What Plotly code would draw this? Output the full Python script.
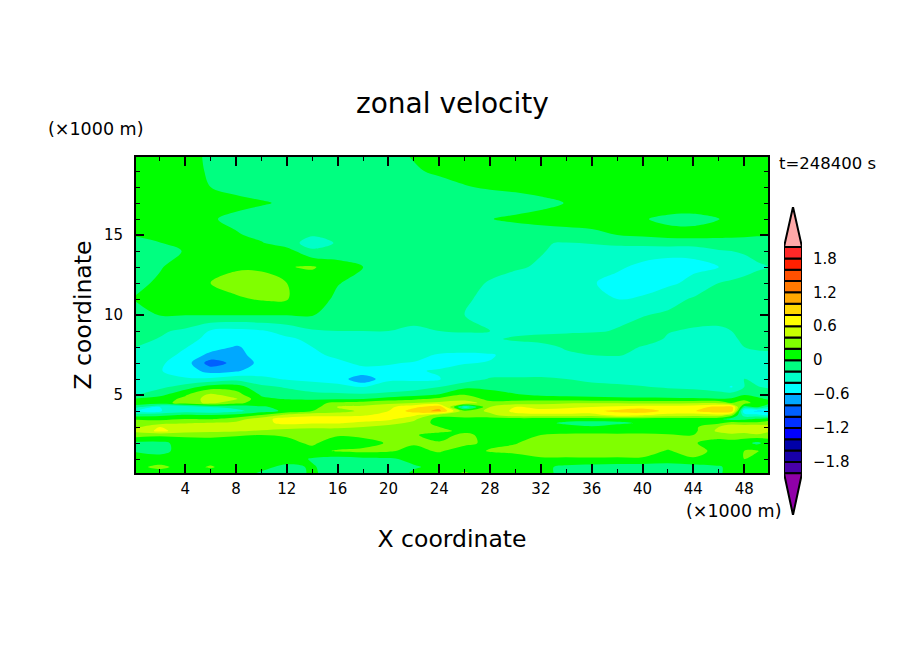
import numpy as np
import plotly.graph_objects as go

x_km = [0.125, 2, 4, 6, 8, 10, 12, 14, 16, 18, 20, 22, 24, 26, 28, 30, 32, 34, 36, 38, 40, 42, 44, 46, 47, 48, 49, 49.875]
z_km = [0.125, 0.5, 1, 1.5, 2, 2.5, 2.75, 3, 3.25, 3.5, 3.75, 4, 4.25, 4.5, 4.75, 5, 5.5, 6, 6.5, 7, 7.5, 8, 8.5, 9, 10, 11, 12, 13, 14, 14.5, 15, 16, 17, 18, 19, 19.875]

# zonal velocity, one row per z level, bottom to top
u = [
    [.1, .1, .1, .1, .08, -.02, -.1, .03, -.1, -.12, -.12, .03, .1, .22, .1, .08, .05, -.05, -.1, -.12, -.12, -.12, -.1, -.02, .05, .1, .1, .1],
    [.15, .25, .12, .22, .1, .05, -.05, .02, -.1, -.12, -.1, -.02, .05, .1, .1, .08, .05, -.05, -.08, -.1, -.1, -.1, -.08, -.02, .05, .1, .1, .1],
    [.1, .08, .12, .12, .14, .1, .1, -.02, -.08, -.05, -.03, .05, .1, .1, .05, .1, .17, .17, .17, .17, .17, .12, .17, .12, .15, .2, .12, .1],
    [-.02, -.06, .08, .08, .08, .1, .1, .14, .22, .25, .22, .15, .22, .1, .22, .25, .3, .3, .32, .3, .3, .18, .3, .12, .12, .2, .22, .1],
    [-.05, -.05, .08, .1, .1, .1, .15, .23, .1, .12, .22, .22, .22, .25, .15, .19, .28, .3, .32, .32, .32, .3, .22, .1, .1, .08, -.05, .08],
    [.3, .25, .25, .25, .22, .2, .22, .2, .22, .25, .2, .22, .12, .25, .12, .1, .2, .25, .25, .25, .25, .22, .2, .3, .35, .3, .35, .3],
    [.45, .65, .5, .45, .42, .38, .32, .3, .3, .25, .23, .25, .25, .15, .15, .1, .1, .1, .12, .1, .12, .12, .15, .45, .5, .5, .6, .45],
    [.35, .6, .55, .5, .5, .48, .48, .45, .45, .4, .32, .3, .2, .15, .12, .1, .1, .08, .02, .1, .12, .12, .15, .4, .55, .55, .58, .5],
    [.3, .32, .38, .42, .45, .55, .65, .62, .62, .55, .48, .35, .12, .08, .1, .1, .08, -.05, -.08, -.05, .03, .1, .12, .15, .3, .25, .25, .3],
    [.18, .15, .2, .18, .3, .52, .7, .72, .7, .7, .65, .45, .1, .1, .1, .1, .1, .1, .1, .1, .1, .1, .1, .05, -.1, -.05, .02, .1],
    [-.1, -.05, .02, 0, .05, .2, .45, .55, .55, .58, .65, .65, .3, .35, .35, .55, .55, .55, .5, .7, .62, .55, .5, .55, .3, -.3, -.35, -.45],
    [-.4, -.42, -.3, -.35, -.25, -.1, .05, .2, .3, .45, .6, .9, 1.05, .25, .45, .65, .7, .72, .75, .85, .95, .72, .78, .95, .95, -.55, -.62, -.6],
    [-.15, -.4, -.35, -.2, -.15, -.02, .05, .1, .42, .45, .55, .75, .95, -.35, .4, .6, .5, .55, .6, .65, .7, .7, .72, .85, .9, -.1, .05, -.2],
    [.15, .1, .3, .45, .25, .1, .12, .13, .25, .3, .35, .4, .45, .55, .25, .3, .35, .38, .38, .38, .35, .35, .38, .38, .2, .3, .1, .08],
    [.03, .1, .25, .5, .42, .05, -.01, -.03, -.02, 0, .1, .16, .27, .3, .15, .12, .1, .08, .06, .05, .04, .04, .03, .01, .02, .15, .05, -.02],
    [-.2, -.05, .18, .46, .3, -.02, -.1, -.14, -.15, -.16, -.12, -.05, .02, .22, .05, .02, -.02, -.04, -.05, -.07, -.07, -.08, -.1, -.12, -.1, 0, -.05, -.1],
    [-.3, -.25, -.1, .1, .1, -.15, -.22, -.3, -.35, -.4, -.35, -.31, -.2, -.05, -.03, -.1, -.12, -.16, -.16, -.17, -.19, -.22, -.24, -.3, -.42, -.2, -.19, -.22],
    [-.33, -.36, -.38, -.36, -.27, -.35, -.42, -.45, -.47, -.78, -.42, -.43, -.41, -.31, -.18, -.18, -.18, -.2, -.23, -.25, -.27, -.29, -.31, -.31, -.3, -.2, -.24, -.26],
    [-.3, -.39, -.48, -.68, -.62, -.5, -.47, -.46, -.43, -.43, -.43, -.42, -.38, -.33, -.3, -.27, -.26, -.26, -.27, -.29, -.31, -.33, -.35, -.36, -.33, -.28, -.26, -.25],
    [-.26, -.37, -.5, -.9, -.74, -.54, -.5, -.47, -.42, -.38, -.39, -.41, -.46, -.41, -.39, -.32, -.29, -.27, -.25, -.27, -.3, -.32, -.35, -.35, -.33, -.3, -.28, -.27],
    [-.23, -.33, -.44, -.66, -.66, -.52, -.48, -.42, -.38, -.36, -.35, -.34, -.42, -.44, -.42, -.33, -.27, -.23, -.2, -.19, -.23, -.27, -.3, -.3, -.29, -.24, -.23, -.22],
    [-.2, -.3, -.39, -.5, -.62, -.52, -.47, -.4, -.33, -.33, -.31, -.31, -.3, -.3, -.28, -.26, -.25, -.18, -.16, -.14, -.21, -.25, -.28, -.28, -.25, -.2, -.18, -.18],
    [-.15, -.21, -.31, -.47, -.5, -.46, -.43, -.36, -.26, -.26, -.25, -.26, -.25, -.24, -.22, -.18, -.15, -.13, -.12, -.11, -.12, -.22, -.25, -.26, -.23, -.17, -.15, -.15],
    [-.12, -.17, -.24, -.42, -.46, -.42, -.33, -.22, -.2, -.2, -.2, -.23, -.2, -.19, -.2, -.24, -.24, -.23, -.22, -.19, -.13, -.19, -.22, -.24, -.2, -.15, -.13, -.12],
    [-.05, .005, .005, .005, .005, .005, .005, .005, -.03, -.09, -.12, -.14, -.16, -.2, -.23, -.25, -.27, -.28, -.27, -.24, -.21, -.17, -.13, -.11, -.1, -.1, -.1, -.1],
    [.01, .06, .1, .14, .17, .22, .21, .1, -.04, -.07, -.09, -.11, -.13, -.18, -.24, -.28, -.31, -.35, -.38, -.4, -.38, -.27, -.18, -.13, -.12, -.12, -.12, -.11],
    [-.03, .02, .1, .2, .28, .3, .2, .1, .01, -.06, -.09, -.11, -.13, -.16, -.21, -.27, -.31, -.35, -.39, -.44, -.47, -.44, -.35, -.2, -.17, -.15, -.14, -.13],
    [-.06, -.01, .06, .14, .17, .16, .19, .22, .1, 0, -.07, -.1, -.12, -.14, -.16, -.18, -.22, -.28, -.33, -.38, -.43, -.45, -.44, -.4, -.33, -.27, -.22, -.2],
    [-.1, -.06, .01, .1, .12, .08, .08, -.16, -.13, -.13, -.14, -.15, -.15, -.15, -.16, -.18, -.19, -.24, -.27, -.29, -.34, -.36, -.36, -.22, -.2, -.18, -.16, -.15],
    [-.04, -.005, .05, .08, .05, .015, -.1, -.3, -.18, -.14, -.14, -.14, -.14, -.14, -.14, -.16, -.19, -.21, -.19, -.15, -.12, -.08, -.07, -.07, -.06, -.05, -.05, -.05],
    [.01, .05, .08, .05, .02, -.05, -.12, -.18, -.15, -.14, -.14, -.13, -.13, -.13, -.12, -.1, -.08, -.06, -.03, 0, .03, .05, .05, .04, .03, .02, .01, .005],
    [.16, .14, .1, .02, -.05, -.1, -.12, -.12, -.13, -.13, -.13, -.12, -.1, -.06, -.005, .03, .05, .06, .05, .04, .01, -.03, -.04, -.002, .03, .05, .05, .05],
    [.16, .15, .13, .1, .06, .02, -.03, -.07, -.1, -.12, -.12, -.12, -.12, -.12, -.1, -.08, -.04, .005, .04, .06, .08, .08, .08, .08, .08, .08, .08, .08],
    [.16, .14, .08, 0, -.06, -.1, -.12, -.12, -.12, -.12, -.12, -.1, -.06, -.01, .02, .04, .06, .08, .1, .1, .1, .1, .1, .1, .1, .1, .1, .1],
    [.15, .12, .06, -.02, -.08, -.1, -.1, -.1, -.1, -.1, -.08, -.02, .03, .06, .08, .1, .1, .1, .1, .1, .1, .1, .1, .1, .1, .1, .1, .1],
    [.15, .12, .06, -.03, -.08, -.1, -.1, -.1, -.1, -.1, -.05, .01, .05, .08, .1, .1, .1, .1, .1, .1, .1, .1, .1, .1, .1, .1, .1, .1],
]

u_low = -2.0
u_high = 2.0
u_step = 0.2

# one colour per 0.2 band, bottom to top
band_colors = [
    "#4800a8", "#1800a8", "#0000a8", "#0000ff", "#0030ff",
    "#0060ff", "#00a8ff", "#00ffff", "#00ffc8", "#00ff80",
    "#00ff00", "#80ff00", "#c8ff00", "#ffff00", "#ffd800",
    "#ffa800", "#ff7800", "#ff5000", "#ff2000", "#ff2828",
]
below_color = "#9000a8"
above_color = "#ffa8a8"
cbar_ticks = [-1.8, -1.2, -0.6, 0, 0.6, 1.2, 1.8]
cbar_labels = ["\u22121.8", "\u22121.2", "\u22120.6", "0", "0.6", "1.2", "1.8"]
# how far the end arrows of the colour bar reach, in velocity units
arrow_top = 2.71
arrow_bottom = -2.74

W, H = 904, 654
FONT = "DejaVu Sans"

# plotly colours a band from its midpoint, so 22 stops hit each band exactly
all_colors = [below_color] + band_colors + [above_color]
scale = [[i / (len(all_colors) - 1), c] for i, c in enumerate(all_colors)]

fig = go.Figure()

fig.add_trace(go.Contour(
    x=x_km, y=z_km, z=np.array(u),
    autocontour=False,
    contours=dict(start=u_low, end=u_high, size=u_step, coloring="fill", showlines=False),
    line_width=0,
    colorscale=scale,
    showscale=False,
    xaxis="x", yaxis="y",
))

# colour bar is drawn as its own little axes
levels = [u_low + i * u_step for i in range(len(band_colors))]
fig.add_trace(go.Bar(
    x=[0.5] * len(levels), y=[u_step] * len(levels), base=levels, width=1,
    marker=dict(color=band_colors, line=dict(color="black", width=2)),
    xaxis="x2", yaxis="y2", showlegend=False,
))
fig.add_trace(go.Scatter(
    x=[0, 0.5, 1, 0], y=[u_high, arrow_top, u_high, u_high], mode="lines",
    fill="toself", fillcolor=above_color, line=dict(color="black", width=2),
    xaxis="x2", yaxis="y2", showlegend=False,
))
fig.add_trace(go.Scatter(
    x=[0, 0.5, 1, 0], y=[u_low, arrow_bottom, u_low, u_low], mode="lines",
    fill="toself", fillcolor=below_color, line=dict(color="black", width=2),
    xaxis="x2", yaxis="y2", showlegend=False,
))


def label(text, px, py, size):
    return dict(text=text, x=px / W, y=1 - py / H, xref="paper", yref="paper",
                xanchor="center", yanchor="middle", showarrow=False, font=dict(size=size))


fig.update_layout(
    width=W, height=H,
    margin=dict(l=0, r=0, t=0, b=0),
    paper_bgcolor="white", plot_bgcolor="white",
    font=dict(family=FONT, size=15, color="black"),
    showlegend=False,
    xaxis=dict(
        domain=[136 / W, 768 / W], range=[0.125, 49.875],
        tick0=0, dtick=4, ticks="inside", ticklen=9, tickwidth=2, tickcolor="black",
        minor=dict(tick0=0, dtick=2, ticks="inside", ticklen=4, tickwidth=1, tickcolor="black"),
        showline=True, linewidth=2, linecolor="black", mirror="ticks",
        showgrid=False, zeroline=False, ticklabelstandoff=1,
        title=dict(text="X coordinate", font=dict(size=23.5), standoff=34),
    ),
    yaxis=dict(
        domain=[1 - 473 / H, 1 - 157 / H], range=[0.125, 19.875],
        tick0=0, dtick=5, ticks="inside", ticklen=8, tickwidth=2, tickcolor="black",
        minor=dict(tick0=0, dtick=1, ticks="inside", ticklen=4, tickwidth=1, tickcolor="black"),
        showline=True, linewidth=2, linecolor="black", mirror="ticks",
        showgrid=False, zeroline=False, ticklabelstandoff=8,
        title=dict(text="Z coordinate", font=dict(size=23.5), standoff=6),
    ),
    xaxis2=dict(
        domain=[784 / W, 802 / W], range=[0, 1], anchor="y2",
        showticklabels=False, ticks="", showgrid=False, zeroline=False,
    ),
    yaxis2=dict(
        domain=[1 - 515 / H, 1 - 207 / H], range=[arrow_bottom, arrow_top],
        anchor="x2", side="right", tickvals=cbar_ticks, ticktext=cbar_labels,
        ticks="outside", ticklen=7, tickcolor="rgba(0,0,0,0)",
        showgrid=False, zeroline=False,
    ),
    annotations=[
        label("zonal velocity", 452, 104, 28),
        label("(\u00d71000 m)", 95, 129, 17.5),
        label("(\u00d71000 m)", 733, 511, 17.5),
        label("t=248400 s", 827, 163, 16.5),
    ],
)

fig.write_html("out.html", config={"displayModeBar": False}, post_script="document.body.style.margin='0';")
